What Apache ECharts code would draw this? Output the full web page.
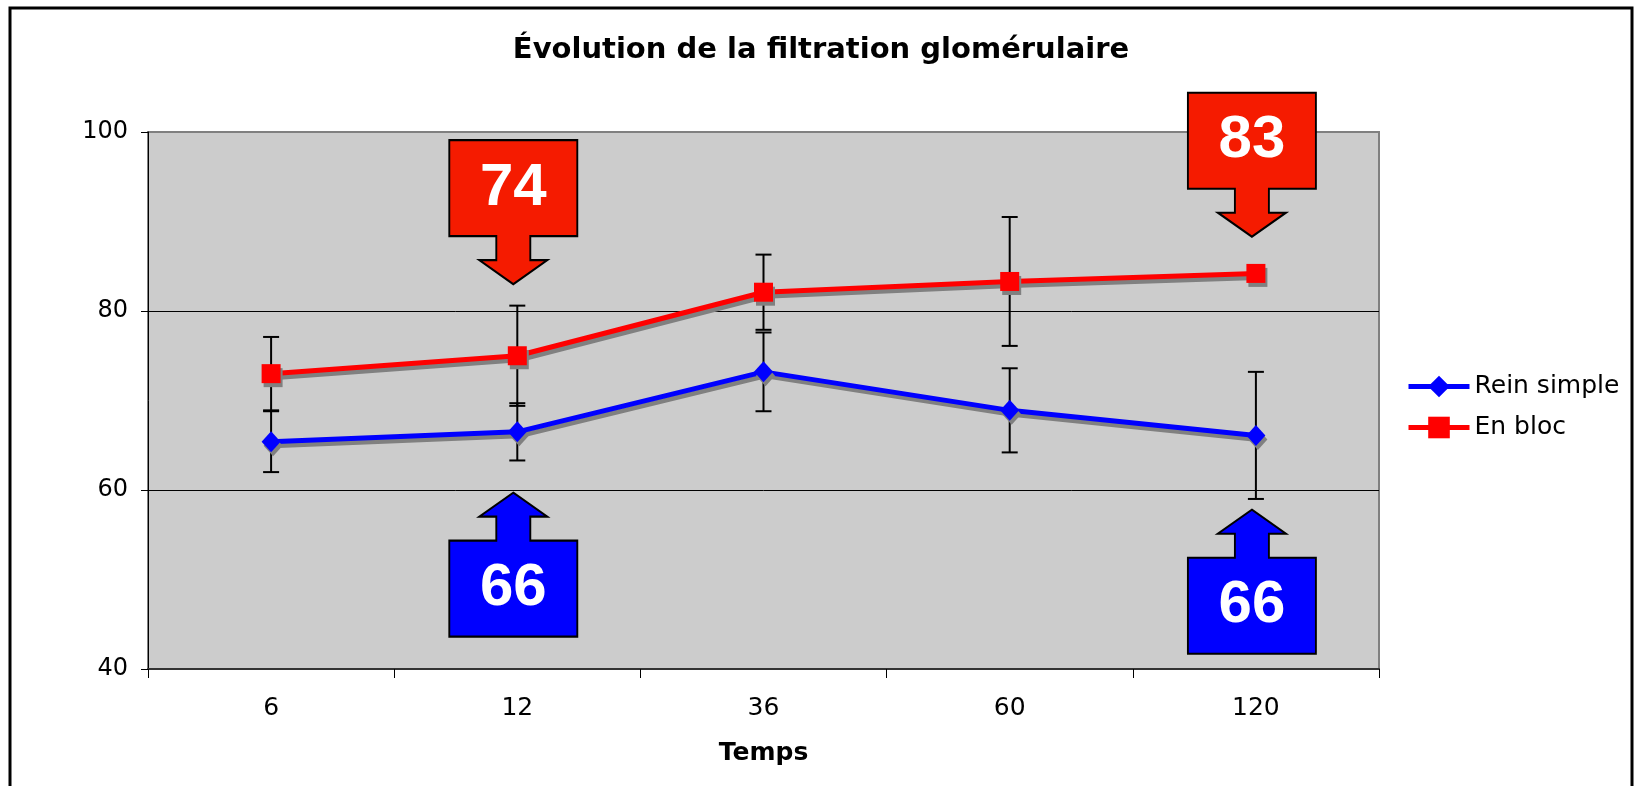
<!DOCTYPE html>
<html>
<head>
<meta charset="utf-8">
<script src="https://cdn.jsdelivr.net/npm/echarts@6/dist/echarts.min.js"></script>
<style>
html,body{margin:0;padding:0;background:#fff;}
#c{width:1645px;height:786px;}
</style>
</head>
<body>
<div id="c"></div>
<script>
// ---- data ----
const categories = ['6', '12', '36', '60', '120'];
const reinSimple = [65.4, 66.5, 73.2, 68.9, 66.1];
const enBloc = [73.0, 75.0, 82.1, 83.3, 84.2];
const reinSimpleErr = [3.4, 3.2, 4.4, 4.7, 7.1];
const enBlocErr = [4.1, 5.6, 4.2, 7.2, 0];
const yTicks = [40, 60, 80, 100];

// callout annotations
const redCalloutCats = ['12', '120'];
const redCalloutText = ['74', '83'];
const redCalloutTip = [83.0, 88.3];
const blueCalloutCats = ['12', '120'];
const blueCalloutText = ['66', '66'];
const blueCalloutTip = [59.7, 57.8];

// ---- chart ----
const chart = echarts.init(document.getElementById('c'), null, {renderer: 'canvas'});

const errData = [];
categories.forEach((c, i) => {
  errData.push([i, reinSimple[i] - reinSimpleErr[i], reinSimple[i] + reinSimpleErr[i]]);
  if (enBlocErr[i] > 0) errData.push([i, enBloc[i] - enBlocErr[i], enBloc[i] + enBlocErr[i]]);
});

const downPath = 'path://M0,0 L128,0 L128,96 L81,96 L81,120 L98,120 L64,144 L30,120 L47,120 L47,96 L0,96 Z';
const upPath = 'path://M64,0 L98,24 L81,24 L81,48 L128,48 L128,144 L0,144 L0,48 L47,48 L47,24 L30,24 Z';

const calloutLabel = {
  show: true,
  position: 'inside',
  color: '#fff',
  fontFamily: 'Liberation Sans, Arial, sans-serif',
  fontWeight: 'bold',
  fontSize: 60
};

const redMarks = redCalloutCats.map((c, i) => ({
  coord: [c, redCalloutTip[i]],
  value: redCalloutText[i],
  symbol: downPath,
  symbolSize: [128, 144],
  symbolOffset: [-4, -72],
  itemStyle: {color: '#f51b00', borderColor: '#000', borderWidth: 2},
  label: Object.assign({}, calloutLabel, {formatter: redCalloutText[i], offset: [0, -24]})
}));
const blueMarks = blueCalloutCats.map((c, i) => ({
  coord: [c, blueCalloutTip[i]],
  value: blueCalloutText[i],
  symbol: upPath,
  symbolSize: [128, 144],
  symbolOffset: [-4, 72],
  itemStyle: {color: '#0000ff', borderColor: '#000', borderWidth: 2},
  label: Object.assign({}, calloutLabel, {formatter: blueCalloutText[i], offset: [0, 24]})
}));

const shadow = {shadowColor: '#808080', shadowOffsetX: 2, shadowOffsetY: 4, shadowBlur: 0};
const FONT = 'DejaVu Sans, Verdana, sans-serif';

const option = {
  animation: false,
  backgroundColor: '#fff',
  textStyle: {fontFamily: FONT},
  title: {
    text: 'Évolution de la filtration glomérulaire',
    left: 816, top: 31, textAlign: 'center',
    textStyle: {fontFamily: FONT, fontWeight: 'bold', fontSize: 29, color: '#000'}
  },
  legend: {
    data: ['Rein simple', 'En bloc'],
    orient: 'vertical',
    left: 1401, top: 369,
    itemWidth: 61, itemHeight: 27, itemGap: 16,
    lineStyle: {width: 5, shadowBlur: 0, shadowOffsetX: 0, shadowOffsetY: 0, shadowColor: 'transparent'},
    itemStyle: {shadowBlur: 0, shadowOffsetX: 0, shadowOffsetY: 0, shadowColor: 'transparent'},
    textStyle: {fontFamily: FONT, fontSize: 25, color: '#000', padding: [0, 0, 0, 0]},
    selectedMode: false
  },
  grid: {
    left: 148, right: 266, top: 132, bottom: 117,
    show: true, backgroundColor: '#cccccc', borderColor: '#808080', borderWidth: 2
  },
  xAxis: {
    type: 'category',
    data: categories,
    boundaryGap: true,
    name: 'Temps',
    nameLocation: 'middle',
    nameGap: 72,
    nameTextStyle: {fontFamily: FONT, fontWeight: 'bold', fontSize: 25, color: '#000'},
    axisLine: {lineStyle: {color: '#333', width: 2}},
    axisTick: {show: true, length: 9, lineStyle: {color: '#000', width: 1}},
    axisLabel: {color: '#000', fontSize: 25, margin: 27, fontFamily: FONT},
    splitLine: {show: false}
  },
  yAxis: {
    type: 'value',
    min: yTicks[0], max: yTicks[yTicks.length - 1], interval: 20,
    axisLine: {show: true, lineStyle: {color: '#000', width: 1}},
    axisTick: {show: true, length: 7, lineStyle: {color: '#000'}},
    axisLabel: {color: '#000', fontSize: 24, margin: 20, fontFamily: FONT},
    splitLine: {show: true, lineStyle: {color: ['rgba(0,0,0,0)', '#000', '#000', 'rgba(0,0,0,0)'], width: 1}}
  },
  series: [
    {
      name: 'errors',
      type: 'custom',
      z: 1,
      data: errData,
      renderItem: function (params, api) {
        const x = api.value(0);
        const lo = api.coord([x, api.value(1)]);
        const hi = api.coord([x, api.value(2)]);
        const cw = 8;
        const st = {stroke: '#000', lineWidth: 2};
        return {
          type: 'group',
          children: [
            {type: 'line', shape: {x1: lo[0], y1: lo[1], x2: hi[0], y2: hi[1]}, style: st},
            {type: 'line', shape: {x1: lo[0] - cw, y1: lo[1], x2: lo[0] + cw, y2: lo[1]}, style: st},
            {type: 'line', shape: {x1: hi[0] - cw, y1: hi[1], x2: hi[0] + cw, y2: hi[1]}, style: st}
          ]
        };
      }
    },
    {
      name: 'Rein simple',
      type: 'line',
      z: 3,
      data: reinSimple,
      symbol: 'diamond',
      symbolSize: [19, 21],
      lineStyle: Object.assign({color: '#0000ff', width: 5}, shadow),
      itemStyle: Object.assign({color: '#0000ff'}, shadow),
      markPoint: {data: blueMarks, z: 5}
    },
    {
      name: 'En bloc',
      type: 'line',
      z: 3,
      data: enBloc,
      symbol: 'rect',
      symbolSize: 19,
      lineStyle: Object.assign({color: '#ff0000', width: 5}, shadow),
      itemStyle: Object.assign({color: '#ff0000'}, shadow),
      markPoint: {data: redMarks, z: 5}
    }
  ],
  graphic: [
    {
      type: 'rect', z: 100, silent: true,
      shape: {x: 10, y: 8, width: 1622, height: 800},
      style: {fill: 'none', stroke: '#000', lineWidth: 3}
    }
  ]
};
chart.setOption(option);
</script>
</body>
</html>
